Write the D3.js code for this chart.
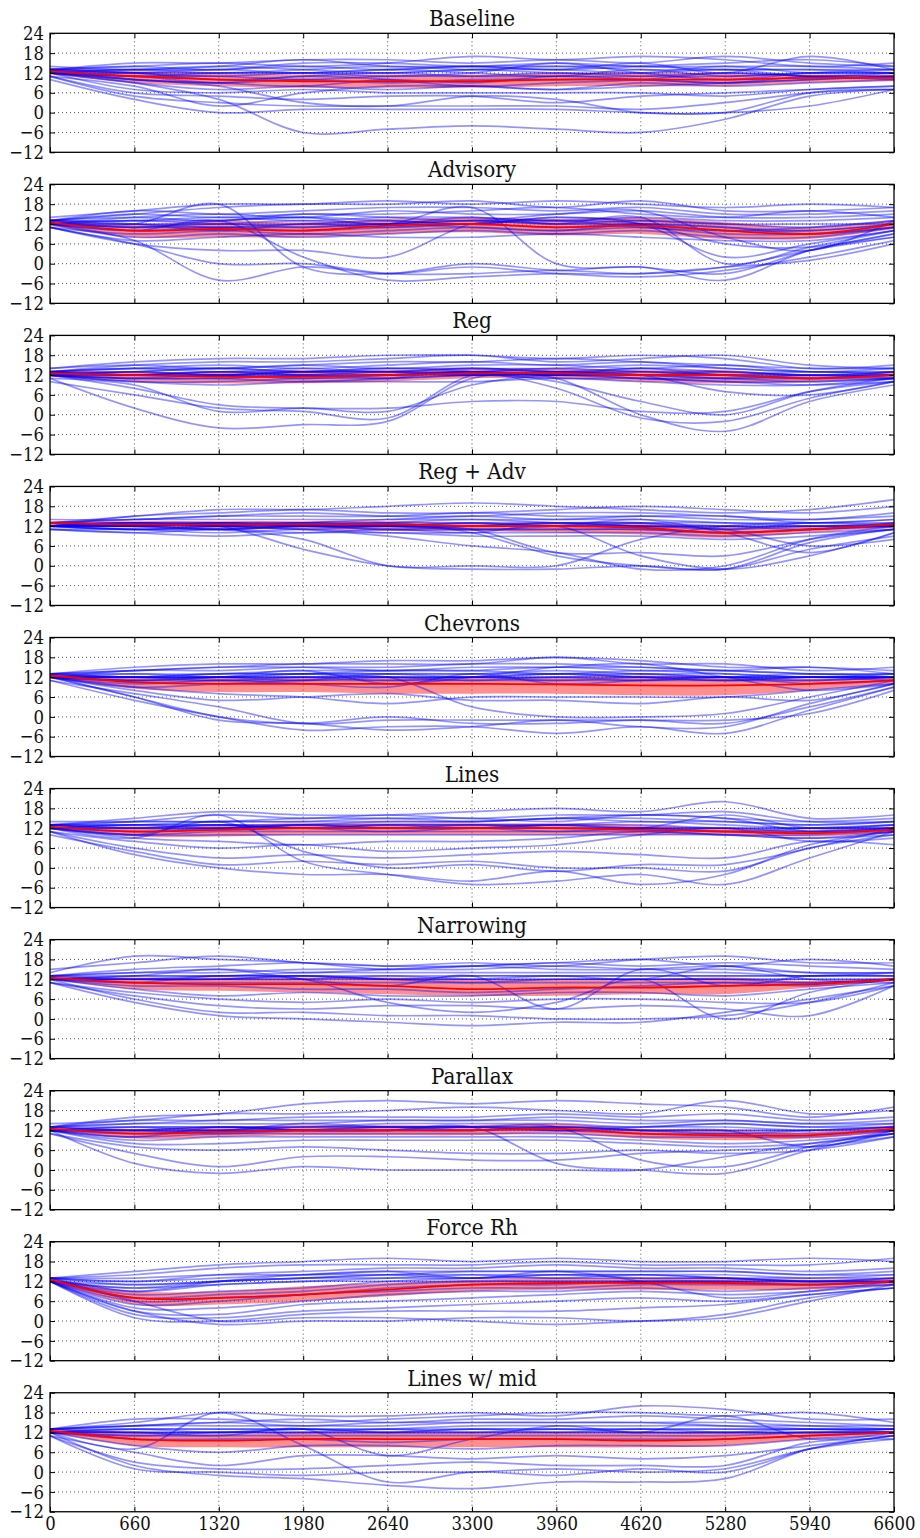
<!DOCTYPE html>
<html><head><meta charset="utf-8">
<script src="https://cdn.jsdelivr.net/npm/d3@7"></script>
<style>body{margin:0;background:#fff}svg text{font-family:"DejaVu Serif",serif;fill:#111}</style>
</head><body>
<svg id="c" width="920" height="1538"></svg>
<script>
const xTicks=[0,660,1320,1980,2640,3300,3960,4620,5280,5940,6600];
const yTicks=[-12,-6,0,6,12,18,24];
const sampleX=[0,660,1320,1980,2640,3300,3960,4620,5280,5940,6600];
const titles=["Baseline","Advisory","Reg","Reg + Adv","Chevrons","Lines","Narrowing","Parallax","Force Rh","Lines w/ mid"];

// ---- Baseline
const baselineMean=[12.5,11,10,9.5,9.5,9.5,10,10,10,10.5,10.5];
const baselineLo=[11.5,9,8,7.5,7.5,7.5,8,8,8,9,9.5];
const baselineHi=[13.5,12.5,12,11.5,11.5,11.5,12,12,12,11.5,11.5];
const baselineRuns=[
[13,15,15,16,16,15,16,15,17,15,14],[13,14,15,14,15,17,16,17,16,14,15],[14,13,14,16,14,14,13,14,15,16,14],
[13,13,13,14,13,14,14,13,13,13,13],[12,12,12,12,12,13,12,12,14,12,12],[12,11,11,10,11,11,12,11,11,12,12],
[12,11,9,10,9,10,10,10,9,11,11],[13,10,9,8,10,9,11,10,9,10,11],[12,10,9,11,10,8,9,10,12,11,10],
[12,9,7,8,7,8,7,8,9,10,11],[11,8,2,6,8,8,7,9,8,9,10],[12,7,6,7,6,6,6,6,5,7,8],
[11,6,5,4,5,5,3,5,6,7,8],[11,5,3,2,2,2,2,1,3,6,7],[10,4,0,1,1,1,1,0,0,6,7],
[12,9,4,-6,-5,-4,-5,-6,-2,5,7],[12,10,8,3,2,5,4,0,0,2,7],[13,12,11,12,11,12,15,12,10,12,13],
[12,12,13,12,13,14,13,15,12,17,13],[12,13,12,13,14,13,13,12,13,11,12],
[13,14,13,15,15,14,15,14,14,14,13],[12,13,14,13,12,13,14,14,13,13,12],[13,12,10,11,12,11,11,11,12,11,11],[12,11,12,12,13,12,11,13,11,12,12]];

// ---- Advisory
const advisoryMean=[12.5,10,10.5,10,11.5,12,11,11.5,10,9,12];
const advisoryLo=[11.5,8,8,8,9,9.5,8.5,9,7.5,7.5,10.5];
const advisoryHi=[13.5,12,13,12.5,13.5,14,13.5,14,12.5,11,13];
const advisoryRuns=[
[14,16,18,18,19,18,19,18,17,18,17],[13,15,17,18,18,19,17,19,16,16,17],[13,16,15,16,17,17,16,17,15,15,16],
[12,14,15,14,16,15,15,16,14,14,15],[13,13,14,13,14,14,13,14,13,13,14],[12,12,12,13,12,13,12,13,12,11,13],
[12,11,11,10,11,12,11,12,10,10,12],[11,9,10,9,10,11,10,11,9,9,11],[12,8,9,8,9,10,9,10,8,8,11],
[11,7,8,9,8,8,9,8,7,7,10],[11,6,4,4,2,12,13,12,6,5,9],[11,6,0,0,-3,-3,-2,-3,-1,4,8],
[12,7,-5,-1,-3,-1,-3,-4,-2,2,7],[12,10,13,2,-5,-4,-3,-3,-1,1,6],[12,12,18,-1,-3,0,-2,-1,-5,4,8],
[13,11,13,14,12,17,0,-1,-3,4,9],[12,13,12,12,13,12,14,12,2,6,10],[12,12,11,12,12,14,12,14,0,5,10],
[13,14,13,15,14,13,15,16,8,4,13],[12,10,11,11,12,11,10,12,11,9,11],
[13,15,14,15,15,16,17,15,14,16,14],[12,13,13,14,13,12,14,13,12,12,12],[12,11,12,11,12,13,12,12,11,10,12],[13,12,10,12,11,12,13,11,10,11,13]];

// ---- Reg
const regMean=[12.5,12,11.5,11.5,12,12.5,12.5,12,12,11,12];
const regLo=[11.5,10,9.5,9.5,10,11,11,10,9.5,10,11];
const regHi=[13.5,13,13,13.5,13.5,14,14,13.5,13.5,12,13];
const regRuns=[
[14,16,17,17,18,18,17,18,17,14,15],[13,15,16,16,17,18,16,17,18,15,14],[14,15,14,15,16,16,17,16,15,14,14],
[13,14,14,15,14,15,15,14,15,13,14],[13,13,14,13,14,14,14,15,14,13,13],[13,12,13,13,13,13,14,13,13,12,13],
[12,12,12,12,12,13,12,13,12,12,12],[12,11,11,12,11,12,12,11,11,11,12],[12,10,10,11,11,12,11,11,10,10,11],
[12,10,9,10,10,10,11,10,9,9,11],[11,9,1,2,1,9,12,11,10,9,10],[10,6,2,1,-1,12,13,12,11,10,11],
[11,2,-4,-3,-2,11,12,12,12,11,11],[12,8,3,2,2,4,4,1,1,7,10],[12,11,11,10,11,13,8,-1,-2,5,10],
[12,12,13,12,12,13,11,0,-5,4,9],[12,13,12,13,14,13,10,4,0,7,11],[13,12,12,13,13,12,13,12,7,6,10],
[12,11,12,11,12,12,12,12,11,12,11],[13,14,13,14,13,14,13,14,13,12,13],
[13,14,15,14,15,16,15,16,14,13,13],[12,13,12,13,13,14,13,12,13,12,12],[13,12,13,12,13,12,13,13,12,11,13],[12,13,14,13,12,13,12,14,12,13,12]];

// ---- Reg + Adv
const regAdvMean=[13,12.5,12.5,12.5,12.5,12,12,11.5,10,11,12.5];
const regAdvLo=[12,11.5,11,11,10.5,10.5,10,9.5,8.5,10,11.5];
const regAdvHi=[13.5,13.5,13.5,13.5,13.5,13,13,13,12,12,13];
const regAdvRuns=[
[13,15,17,17,18,19,18,17,16,17,20],[12,15,16,17,16,16,17,18,17,16,18],[14,14,15,16,15,15,16,16,15,14,16],
[13,14,14,14,14,15,14,15,14,14,15],[13,13,13,13,14,14,14,14,13,13,14],[12,12,13,12,12,13,13,13,12,12,13],
[12,12,12,12,12,12,12,12,11,12,12],[11,11,11,12,11,11,11,11,10,11,12],[12,11,10,11,10,10,10,10,9,10,11],
[11,10,9,10,10,9,9,9,8,9,11],[12,11,11,8,0,0,0,8,12,13,13],[12,12,12,5,0,-1,-1,0,-1,7,11],
[12,13,12,11,9,6,4,-1,0,8,12],[11,10,11,10,11,10,12,3,-1,3,10],[12,12,11,12,13,10,3,0,-1,5,9],
[12,11,12,13,12,11,12,14,10,4,10],[12,13,12,12,12,11,4,4,3,8,11],[13,12,13,12,12,13,12,12,11,6,8],
[12,12,11,12,11,12,13,12,12,12,12],[12,11,12,11,12,11,11,11,10,11,12],
[13,14,15,15,15,16,15,15,15,13,14],[12,13,12,13,13,13,12,13,13,12,12],[13,12,13,13,12,12,13,12,12,11,13],[12,13,13,12,13,14,13,13,11,13,12]];

// ---- Chevrons
const chevronsMean=[12.5,10.5,10,10,10,10,9.8,9.5,9.5,10,11];
const chevronsLo=[12,8.5,7.5,7.5,7,7,7,6.5,6.5,8,10];
const chevronsHi=[13,12,12,12,12,12,12,12.5,12,11.5,12];
const chevronsRuns=[
[13,15,16,16,17,17,18,17,15,15,14],[13,14,15,16,16,16,18,16,16,14,15],[12,14,14,15,15,16,16,15,14,15,13],
[13,13,13,14,14,14,15,14,14,13,13],[12,12,13,13,13,13,14,13,13,12,12],[12,12,12,12,12,12,12,12,12,12,12],
[12,11,11,11,11,11,11,11,11,11,12],[12,10,11,10,9,13,10,11,12,10,11],[12,9,7,6,4,6,6,6,6,8,10],
[12,8,5,6,7,5,5,4,6,5,10],[11,7,3,-2,-1,-1,-1,-1,-1,1,8],[12,6,0,-2,0,-2,-2,-1,-2,3,9],
[11,5,0,-4,-3,-3,-5,-3,-5,2,9],[12,6,-1,-2,-4,-3,-1,-3,-3,4,10],[12,9,10,11,12,3,0,0,1,6,11],
[12,11,12,14,10,12,15,16,12,8,10],[12,12,13,13,14,14,13,14,13,12,13],[13,12,12,13,13,12,13,12,11,12,12],
[12,11,12,12,11,12,11,12,12,13,12],[12,12,11,12,12,11,12,11,12,11,12],
[13,14,15,15,14,15,15,15,14,13,13],[12,13,12,12,13,13,13,13,12,12,12],[12,12,12,13,12,12,12,13,12,12,11],[13,12,12,11,12,12,13,12,11,12,12]];

// ---- Lines
const linesMean=[12.5,11,11.5,12,12,12,12,11.5,11,10.5,11.5];
const linesLo=[12,9.5,9.5,10,10,10,10,10,10,9.5,10.5];
const linesHi=[13,12.5,13,13.5,13.5,13.5,13.5,13,12,11.5,12.5];
const linesRuns=[
[13,15,17,16,16,17,18,17,20,15,16],[13,14,16,15,16,15,16,16,17,14,14],[14,14,14,15,15,15,14,16,15,14,15],
[13,13,14,14,14,14,15,14,14,13,14],[13,13,13,13,13,13,13,14,13,12,13],[12,12,12,13,12,12,12,12,12,12,12],
[12,11,12,12,11,12,11,12,11,11,12],[12,10,11,11,11,11,11,11,10,10,11],[12,10,10,10,10,10,10,10,10,9,11],
[12,9,8,7,8,8,9,11,10,9,10],[11,8,6,7,5,6,7,10,12,8,9],[11,6,3,4,3,4,5,4,3,8,7],
[10,5,1,2,1,2,0,0,-1,6,10],[11,4,0,-2,-2,-4,-1,-5,-2,7,11],[12,9,16,2,-2,-5,-4,-2,-5,3,11],
[12,10,14,5,0,1,-1,1,1,6,12],[12,13,12,13,14,14,15,16,15,11,12],[13,12,13,12,13,12,13,12,16,12,13],
[13,14,14,14,15,14,15,15,14,13,14],[12,13,13,12,13,13,13,13,12,12,12],[13,12,12,13,12,13,12,12,11,12,13],[12,12,13,12,12,12,13,12,12,11,12]];

// ---- Narrowing
const narrowingMean=[12.5,11,10.5,10.5,10,9,9.5,9.5,10,10.5,12];
const narrowingLo=[12,9,8.5,8,7.5,7,7,7.5,7.5,9.5,11.5];
const narrowingHi=[13,12.5,12.5,12.5,12.5,12,12,12,12.5,11.5,12.5];
const narrowingRuns=[
[15,17,19,17,16,17,16,18,19,17,17],[14,19,18,17,15,16,17,18,16,18,16],[13,15,16,17,16,16,17,16,17,16,15],
[13,14,14,15,15,15,16,15,15,14,14],[13,13,13,14,14,14,14,14,14,13,14],[12,12,13,13,13,13,13,13,13,13,13],
[12,12,12,12,12,12,12,12,12,12,12],[12,11,11,11,11,11,11,11,11,11,12],[12,10,10,9,9,8,9,10,11,10,12],
[12,9,7,8,7,7,8,8,7,9,11],[11,8,6,5,6,5,6,6,5,5,10],[11,7,4,3,4,4,3,4,3,1,10],
[12,6,2,2,1,1,0,0,1,5,11],[11,5,1,0,-1,-2,-1,-1,2,6,10],[12,11,13,12,5,2,5,12,0,8,12],
[12,13,15,12,10,13,3,15,10,13,13],[12,12,12,13,12,12,13,12,16,12,11],
[13,14,15,14,15,16,15,15,16,14,14],[12,13,13,13,12,13,13,13,13,13,13],[12,12,12,12,13,12,12,12,12,12,12],[13,12,12,13,12,11,12,12,12,11,12]];

// ---- Parallax
const parallaxMean=[12.5,11,11.5,12,12,12,12.5,11,10.5,10.5,12.5];
const parallaxLo=[12,9.5,10,10.5,10.5,10.5,11,9.5,9,9.5,11.5];
const parallaxHi=[13,12.5,13,13.5,13.5,13.5,14,12.5,12,11.5,13.5];
const parallaxRuns=[
[13,16,17,20,21,20,21,20,19,16,19],[14,15,17,17,18,19,18,17,21,17,18],[13,15,15,16,16,16,17,16,17,15,16],
[13,14,14,14,15,15,15,14,15,14,15],[13,13,13,13,14,14,14,13,14,13,14],[12,12,12,13,13,13,13,12,12,12,13],
[12,11,12,12,12,12,12,11,11,11,12],[12,10,11,11,11,11,11,10,10,10,12],[12,9,10,10,10,10,10,9,8,9,11],
[12,8,8,9,9,9,9,8,7,8,11],[11,7,6,7,6,5,5,6,5,6,10],[11,5,1,4,4,3,3,5,6,7,10],
[12,2,-1,1,0,0,0,0,4,8,11],[12,10,13,12,12,13,2,0,-1,6,11],[12,12,11,12,13,13,13,3,1,7,12],
[13,12,13,12,12,12,13,12,12,7,12],[12,13,12,14,13,13,12,13,14,13,13],
[13,14,15,15,15,15,16,15,15,14,14],[12,13,13,13,13,13,13,13,13,12,13],[12,12,13,12,12,13,12,12,12,12,12],[13,12,12,12,13,12,13,12,11,12,13]];

// ---- Force Rh
const forceRhMean=[12.5,7,7,8,9.5,11,11.5,11.5,11.5,11,12];
const forceRhLo=[12,5,5,6,7.5,9,9.5,9.5,9.5,9.5,11];
const forceRhHi=[13,9,9,10.5,11.5,12.5,13,13,13,12.5,13];
const forceRhRuns=[
[13,15,17,18,19,18,19,18,18,19,18],[13,14,16,17,17,17,18,17,17,17,19],[13,12,14,15,16,16,17,16,16,15,16],
[12,10,12,13,14,15,15,15,15,14,15],[13,9,11,12,13,14,14,14,14,13,14],[12,8,9,10,12,13,13,13,13,12,13],
[12,7,8,9,11,12,12,12,12,12,12],[12,6,7,8,10,11,11,12,12,11,12],[12,5,6,8,9,10,10,11,11,11,12],
[12,4,4,6,8,9,9,10,9,10,11],[12,3,2,5,6,7,8,9,8,9,11],[12,2,1,3,4,5,6,7,6,8,10],
[12,1,0,2,3,3,3,4,5,8,10],[12,3,-1,0,0,1,1,0,2,7,10],[13,6,0,1,1,0,-1,0,1,6,11],
[12,9,12,14,15,13,15,12,7,9,12],[13,11,12,13,14,14,13,14,13,12,13],
[13,13,14,14,15,15,15,15,15,14,14],[12,11,12,13,13,13,14,13,13,13,13],[12,10,11,12,12,12,12,12,12,12,12],[13,12,13,14,14,13,14,14,13,12,12]];

// ---- Lines w/ mid
const linesMidMean=[12.5,10,9.5,10,10,10,10,9.5,10,11,12];
const linesMidLo=[12,8,7.5,7.5,7.5,7.5,7.5,7.5,8,10,11.5];
const linesMidHi=[13,12,11.5,12,12,12,12,12,12,12,12.5];
const linesMidRuns=[
[13,15,18,17,17,18,17,20,19,16,16],[13,16,16,15,16,17,18,18,17,18,15],[13,14,15,16,15,16,16,17,16,15,14],
[13,14,14,14,14,15,15,15,15,14,13],[13,13,13,13,13,14,14,14,14,13,13],[12,13,12,13,12,13,13,13,13,13,13],
[12,12,12,12,12,12,12,12,12,12,12],[12,11,11,11,11,11,11,11,11,12,12],[12,10,10,10,9,10,10,10,10,11,12],
[12,8,6,8,8,7,8,8,8,10,11],[11,6,2,5,5,4,5,4,5,8,11],[11,3,1,1,2,3,2,2,2,9,10],
[11,1,0,-1,0,0,1,0,1,7,10],[12,2,-1,-2,-4,-5,-3,-3,-2,7,11],[12,7,18,8,-3,0,-1,1,0,7,11],
[12,12,11,13,5,10,14,12,17,10,12],[12,11,12,12,13,12,13,12,12,13,12],
[13,14,15,14,15,15,15,15,14,14,14],[12,13,13,13,13,13,13,13,13,13,13],[12,12,12,13,12,12,12,12,12,12,12],[13,12,12,12,12,13,12,13,12,12,13]];

const panels=[
 {runs:baselineRuns,mean:baselineMean,lo:baselineLo,hi:baselineHi},
 {runs:advisoryRuns,mean:advisoryMean,lo:advisoryLo,hi:advisoryHi},
 {runs:regRuns,mean:regMean,lo:regLo,hi:regHi},
 {runs:regAdvRuns,mean:regAdvMean,lo:regAdvLo,hi:regAdvHi},
 {runs:chevronsRuns,mean:chevronsMean,lo:chevronsLo,hi:chevronsHi},
 {runs:linesRuns,mean:linesMean,lo:linesLo,hi:linesHi},
 {runs:narrowingRuns,mean:narrowingMean,lo:narrowingLo,hi:narrowingHi},
 {runs:parallaxRuns,mean:parallaxMean,lo:parallaxLo,hi:parallaxHi},
 {runs:forceRhRuns,mean:forceRhMean,lo:forceRhLo,hi:forceRhHi},
 {runs:linesMidRuns,mean:linesMidMean,lo:linesMidLo,hi:linesMidHi}
];

const svg=d3.select("#c");
const L=50,R=894,T0=33.3,STEP=151.05,PH=119;
const x=d3.scaleLinear().domain([0,6600]).range([L,R]);
const curve=d3.curveCatmullRom.alpha(0.5);

panels.forEach((p,i)=>{
  const t=T0+i*STEP;
  const y=d3.scaleLinear().domain([-12,24]).range([t+PH,t]);
  const g=svg.append("g");
  const cid="clip"+i;
  svg.append("clipPath").attr("id",cid).append("rect").attr("x",L).attr("y",t).attr("width",R-L).attr("height",PH);

  // grid
  const grid=g.append("g").attr("stroke","#555").attr("stroke-width",1).attr("stroke-dasharray","1,3");
  grid.selectAll("line.h").data(yTicks.filter(v=>v>-12&&v<24)).join("line")
    .attr("x1",L).attr("x2",R).attr("y1",d=>y(d)).attr("y2",d=>y(d));
  grid.selectAll("line.v").data(xTicks.filter(v=>v>0&&v<6600)).join("line")
    .attr("y1",t).attr("y2",t+PH).attr("x1",d=>x(d)).attr("x2",d=>x(d));

  const data=g.append("g").attr("clip-path",`url(#${cid})`);
  const line=d3.line().x((d,k)=>x(sampleX[k])).y(d=>y(d)).curve(curve);
  const area=d3.area().x((d,k)=>x(sampleX[k])).y0((d,k)=>y(p.lo[k])).y1((d,k)=>y(p.hi[k])).curve(curve);
  data.append("path").datum(p.mean).attr("d",area).attr("fill","#ff2020").attr("fill-opacity",0.5);
  data.selectAll("path.run").data(p.runs).join("path").attr("class","run")
    .attr("d",line).attr("fill","none").attr("stroke","#0000ff").attr("stroke-opacity",0.42).attr("stroke-width",1.7);
  data.append("path").datum(p.mean).attr("d",line).attr("fill","none").attr("stroke","#ff0000").attr("stroke-width",1.8);

  // axes (inward ticks)
  const fmt=d3.format("d");
  const ax=g.append("g");
  ax.append("g").attr("transform",`translate(${L},0)`)
    .call(d3.axisLeft(y).tickValues(yTicks).tickSize(-5).tickPadding(6).tickFormat(fmt));
  ax.append("g").attr("transform",`translate(${R},0)`)
    .call(d3.axisRight(y).tickValues(yTicks).tickSize(-5).tickFormat(""));
  ax.append("g").attr("transform",`translate(0,${t+PH})`)
    .call(d3.axisBottom(x).tickValues(xTicks).tickSize(-5).tickPadding(4).tickFormat(i===panels.length-1?fmt:""));
  ax.append("g").attr("transform",`translate(0,${t})`)
    .call(d3.axisTop(x).tickValues(xTicks).tickSize(-5).tickFormat(""));
  ax.selectAll(".domain").remove();
  ax.selectAll(".tick line").attr("stroke","#000");
  ax.selectAll("text").attr("font-family","DejaVu Serif").attr("font-size",16.5).attr("fill","#111")
    .attr("transform","scale(1,1.17)");
  g.append("rect").attr("x",L).attr("y",t).attr("width",R-L).attr("height",PH)
    .attr("fill","none").attr("stroke","#000").attr("stroke-width",1.3);

  g.append("text").attr("transform",`translate(${(L+R)/2},${t-7}) scale(1,1.15)`).attr("text-anchor","middle")
    .attr("font-size",20).text(titles[i]);
});
</script>
</body></html>
